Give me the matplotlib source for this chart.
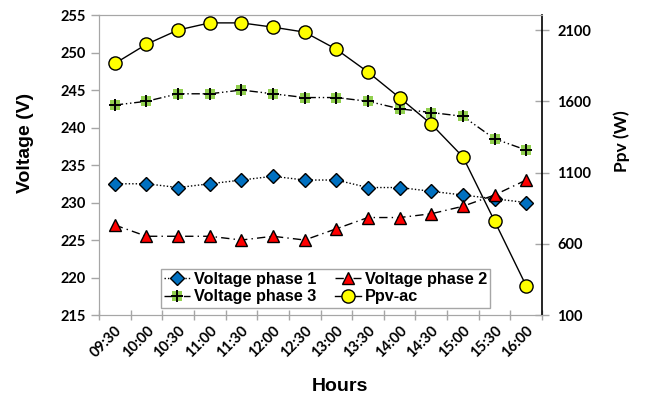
import numpy as np
import matplotlib.pyplot as plt
from matplotlib.ticker import FixedLocator

horas = ["09:30", "10:00", "10:30", "11:00", "11:30", "12:00", "12:30",
         "13:00", "13:30", "14:00", "14:30", "15:00", "15:30", "16:00"]

faza1 = [232.5, 232.5, 232.0, 232.5, 233.0, 233.5, 233.0,
         233.0, 232.0, 232.0, 231.5, 231.0, 230.5, 230.0]
faza2 = [227.0, 225.5, 225.5, 225.5, 225.0, 225.5, 225.0,
         226.5, 228.0, 228.0, 228.5, 229.5, 231.0, 233.0]
faza3 = [243.0, 243.5, 244.5, 244.5, 245.0, 244.5, 244.0,
         244.0, 243.5, 242.5, 242.0, 241.5, 238.5, 237.0]
ppv = [1865, 2000, 2100, 2150, 2150, 2120, 2085,
       1965, 1805, 1625, 1440, 1210, 760, 305]

siva = "#A6A6A6"
tick_font = dict(family="Lato", weight="bold", size=10.5)

fig = plt.figure(figsize=(6.45, 3.96), dpi=100)
ax = fig.add_axes([0.1535, 0.2045, 0.6868, 0.7575])
ax2 = ax.twinx()

x = np.arange(len(horas))

l1, = ax.plot(x, faza1, color="black", lw=1, ls=(0, (1, 1.5)),
              marker="D", ms=7, mfc="#0070C0", mec="black", mew=1, zorder=3)
l2, = ax.plot(x, faza2, color="black", lw=1, ls=(0, (6, 3, 1, 3)),
              marker="^", ms=9, mfc="#FF0000", mec="black", mew=1, zorder=3)
l3, = ax.plot(x, faza3, color="black", lw=1, ls=(0, (6, 2, 1, 2, 1, 2)),
              marker="s", ms=7.5, mfc="#92D050", mec="#92D050", mew=0, zorder=3)
l3p, = ax.plot(x, faza3, ls="none", marker="+", ms=8, mec="black", mew=1.4,
               zorder=4)
l4, = ax2.plot(x, ppv, color="black", lw=1, marker="o", ms=9.5,
               mfc="#FFFF00", mec="black", mew=1, zorder=3)

ax.set_xlim(-0.5, len(horas) - 0.5)
ax.set_ylim(215, 255)
ax2.set_ylim(100, 2205)

ax.set_yticks(np.arange(215, 256, 5))
ax2.set_yticks([100, 600, 1100, 1600, 2100])
ax.set_xticks(x)
ax.set_xticklabels(horas, rotation=45, ha="right", rotation_mode="anchor",
                   **tick_font)
ax.xaxis.set_minor_locator(FixedLocator(np.arange(-0.5, len(horas), 1)))
ax.tick_params(axis="x", which="major", length=0, pad=6)
ax.tick_params(axis="x", which="minor", direction="inout", length=7,
               color=siva, width=1)
ax.tick_params(axis="y", direction="out", length=6, color=siva, width=1)
ax2.tick_params(axis="y", direction="inout", length=10, color=siva, width=1,
                pad=6)
for lab in ax.get_yticklabels() + ax2.get_yticklabels():
    lab.set_fontproperties(tick_font)

for s in ["left", "bottom", "top"]:
    ax.spines[s].set_color(siva)
    ax2.spines[s].set_color(siva)
ax2.spines["right"].set_color("black")
ax2.spines["right"].set_linewidth(1.2)
ax.spines["right"].set_visible(False)

ax.set_ylabel("Voltage (V)", family="Liberation Sans", weight="bold",
              size=14, va="center")
ax.yaxis.set_label_coords(-0.167, 0.575)
ax2.set_ylabel("Ppv (W)", family="Lato", weight="bold", size=12.5,
               va="center")
ax2.yaxis.set_label_coords(1.18, 0.58)
ax.set_xlabel("Hours", family="Liberation Sans", weight="bold", size=14,
              va="top")
ax.xaxis.set_label_coords(0.544, -0.21)

# redosled: faza 1 i 2 u prvom redu, faza 3 i Ppv u drugom
leg = ax2.legend([l1, (l3, l3p), l2, l4],
                 ["Voltage phase 1", "Voltage phase 3", "Voltage phase 2",
                  "Ppv-ac"],
                 ncol=2, loc="lower left", bbox_to_anchor=(0.14, 0.025),
                 prop=dict(family="Liberation Sans", weight="bold", size=11.7),
                 frameon=True, fancybox=False, edgecolor=siva, framealpha=1,
                 handlelength=1.6, handletextpad=0.2, columnspacing=1.2,
                 labelspacing=0.15, borderpad=0.2, borderaxespad=0)
leg.get_frame().set_linewidth(1)

fig.savefig("out.png", dpi=100)
